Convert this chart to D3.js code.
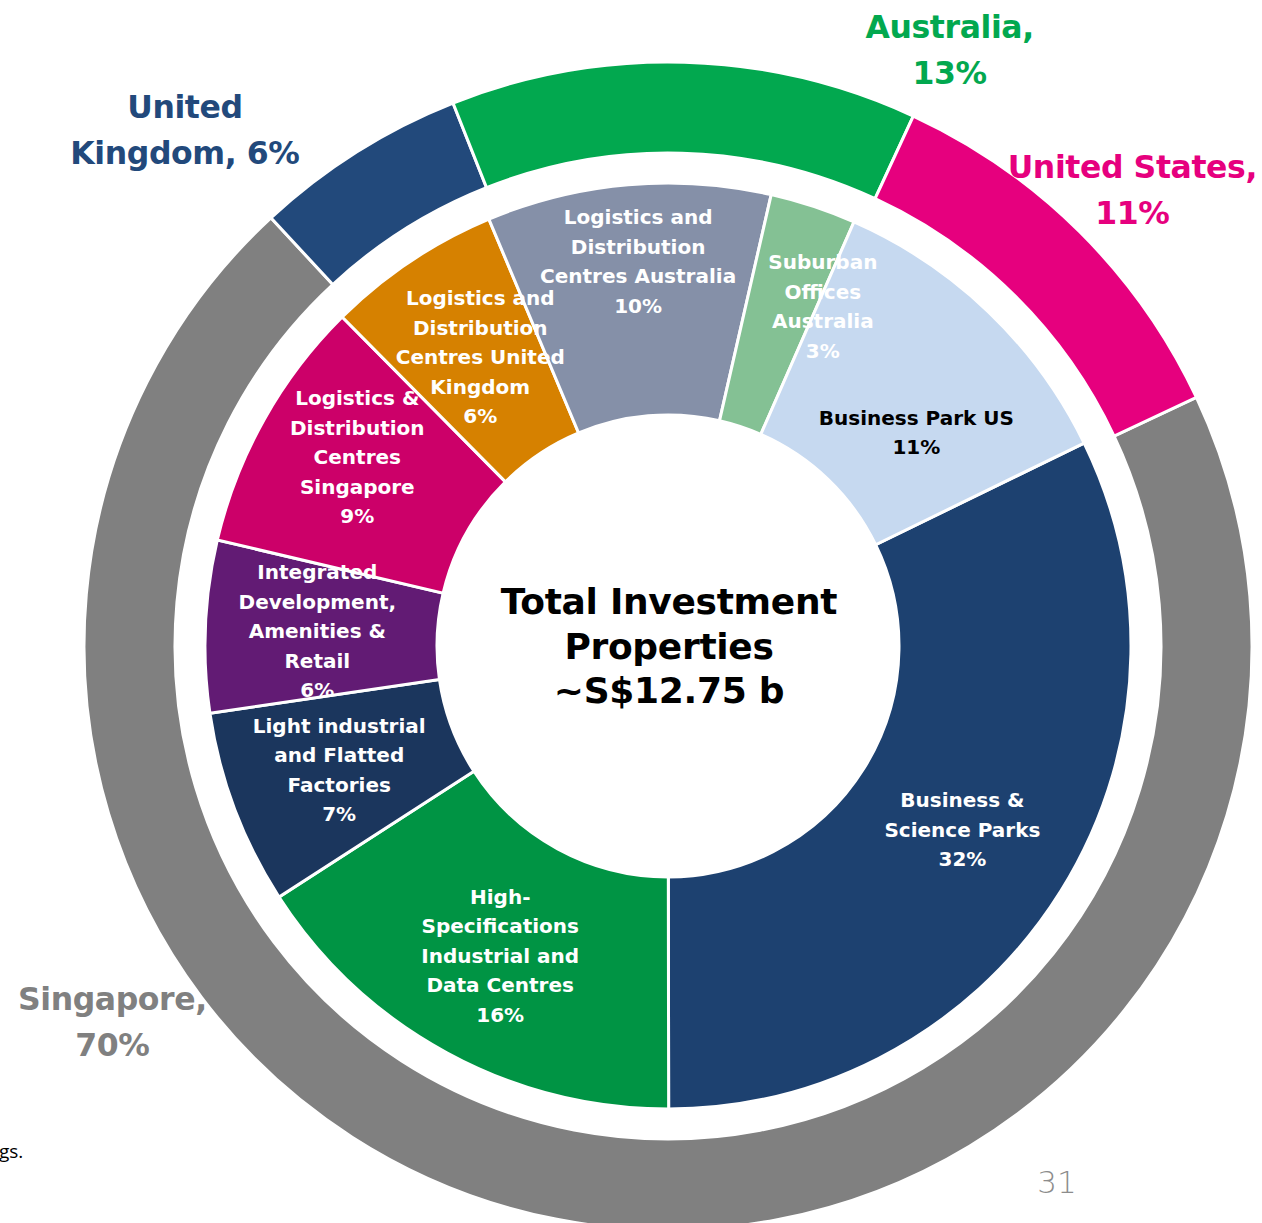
<!DOCTYPE html>
<meta charset="utf-8">
<style>
  body {
    margin: 0;
    background: #fff;
  }

  .segLabel {
    font-family: "DejaVu Sans", sans-serif;
    font-weight: bold;
    font-size: 20px;
  }

  .regionLabel {
    font-family: "DejaVu Sans", sans-serif;
    font-weight: bold;
    font-size: 31.5px;
    letter-spacing: -0.4px;
  }

  .centerLabel {
    font-family: "DejaVu Sans", sans-serif;
    font-weight: bold;
    font-size: 36px;
    letter-spacing: -0.3px;
    fill: #000;
  }

  .pageNo {
    font-family: "DejaVu Sans", sans-serif;
    font-weight: 300;
    font-size: 31px;
    fill: #8c8c8c;
  }

  .footnote {
    font-family: "Open Sans", sans-serif;
    font-size: 19px;
    fill: #000;
  }
</style>

<body>
  <script src="https://d3js.org/d3.v7.min.js"></script>
  <script>

    // outer ring - by country
    var regionLines = [["Singapore,", "{p}%"], ["United", "Kingdom, {p}%"], ["Australia,", "{p}%"], ["United States,", "{p}%"]];
    var regionShare = [70.1, 5.9, 12.9, 11.1];
    var regionColors = ["#808080", "#22497b", "#02a84f", "#e6007e"];

    // inner ring - by property segment
    var segLines = [
      ["Business &", "Science Parks"],
      ["High-", "Specifications", "Industrial and", "Data Centres"],
      ["Light industrial", "and Flatted", "Factories"],
      ["Integrated", "Development,", "Amenities &", "Retail"],
      ["Logistics &", "Distribution", "Centres", "Singapore"],
      ["Logistics and", "Distribution", "Centres United", "Kingdom"],
      ["Logistics and", "Distribution", "Centres Australia"],
      ["Suburban", "Offices", "Australia"],
      ["Business Park US"]
    ];
    var segShare = [32.2, 15.9, 6.8, 6.0, 8.9, 6.1, 9.9, 3.0, 11.2];
    var segColors = ["#1d4170", "#009444", "#1b365d", "#621b74", "#cc0069", "#d68100", "#8590a8", "#84c194", "#c6d9f0"];
    var segTextColors = ["#fff", "#fff", "#fff", "#fff", "#fff", "#fff", "#fff", "#fff", "#000"];

    var centerLines = ["Total Investment", "Properties", "~S$12.75 b"];

    // layout
    var width = 1262, height = 1223;
    var cx = 668, cy = 646;
    var deg = Math.PI / 180;
    var outerStart = 64.8, innerStart = 64.0;

    // small label nudges (px) where the labels were moved off the centroid
    var segNudge = [[0, 0], [-2, 5], [-4, 2], [-4, 0], [-8, -19], [5, 0], [0, -39], [46, -10], [8, 37]];
    // region labels placed outside the ring: [angle deg, radius]
    var regionLabelPos = [[235.9, 671], [316.9, 707], [25.3, 659], [45.5, 651]];

    var svg = d3.select("body").append("svg")
      .attr("width", width)
      .attr("height", height);

    var g = svg.append("g")
      .attr("transform", "translate(" + cx + "," + cy + ")");

    var outerArc = d3.arc().innerRadius(493).outerRadius(584);
    var innerArc = d3.arc().innerRadius(231).outerRadius(463);

    var outerPie = d3.pie().sort(null).value(function (d) { return d; })
      .startAngle(outerStart * deg).endAngle(outerStart * deg + 2 * Math.PI);
    var innerPie = d3.pie().sort(null).value(function (d) { return d; })
      .startAngle(innerStart * deg).endAngle(innerStart * deg + 2 * Math.PI);

    // outer ring
    g.selectAll("path.region")
      .data(outerPie(regionShare))
      .enter().append("path")
      .attr("class", "region")
      .attr("d", outerArc)
      .attr("fill", function (d, i) { return regionColors[i]; })
      .attr("stroke", "#fff")
      .attr("stroke-width", 3);

    // inner ring
    var segArcs = innerPie(segShare);
    g.selectAll("path.seg")
      .data(segArcs)
      .enter().append("path")
      .attr("class", "seg")
      .attr("d", innerArc)
      .attr("fill", function (d, i) { return segColors[i]; })
      .attr("stroke", "#fff")
      .attr("stroke-width", 3);

    // segment labels
    var lh = 29.5;
    segArcs.forEach(function (d, i) {
      var c = innerArc.centroid(d);
      var lines = segLines[i].concat([Math.round(segShare[i]) + "%"]);
      var t = g.append("text")
        .attr("class", "segLabel")
        .attr("text-anchor", "middle")
        .attr("fill", segTextColors[i])
        .attr("transform", "translate(" + (c[0] + segNudge[i][0]) + "," + (c[1] + segNudge[i][1]) + ")");
      lines.forEach(function (s, j) {
        t.append("tspan")
          .attr("x", 0)
          .attr("y", (j - (lines.length - 1) / 2) * lh)
          .attr("dy", "0.35em")
          .text(s);
      });
    });

    // region labels
    regionLines.forEach(function (lines, i) {
      var p = d3.pointRadial(regionLabelPos[i][0] * deg, regionLabelPos[i][1]);
      var t = g.append("text")
        .attr("class", "regionLabel")
        .attr("text-anchor", "middle")
        .attr("fill", regionColors[i])
        .attr("transform", "translate(" + p[0] + "," + p[1] + ")");
      lines.forEach(function (s, j) {
        t.append("tspan")
          .attr("x", 0)
          .attr("y", (j - (lines.length - 1) / 2) * 46)
          .attr("dy", "0.35em")
          .text(s.replace("{p}", Math.round(regionShare[i])));
      });
    });

    // center title
    var ct = g.append("text")
      .attr("class", "centerLabel")
      .attr("text-anchor", "middle");
    centerLines.forEach(function (s, j) {
      ct.append("tspan")
        .attr("x", 1)
        .attr("y", (j - 1) * 44.5)
        .attr("dy", "0.35em")
        .text(s);
    });

    // slide leftovers
    svg.append("text")
      .attr("class", "footnote")
      .attr("x", -1)
      .attr("y", 1158)
      .text("gs.");

    svg.append("text")
      .attr("class", "pageNo")
      .attr("x", 1057)
      .attr("y", 1193)
      .attr("text-anchor", "middle")
      .text("31");

  </script>
</body>
